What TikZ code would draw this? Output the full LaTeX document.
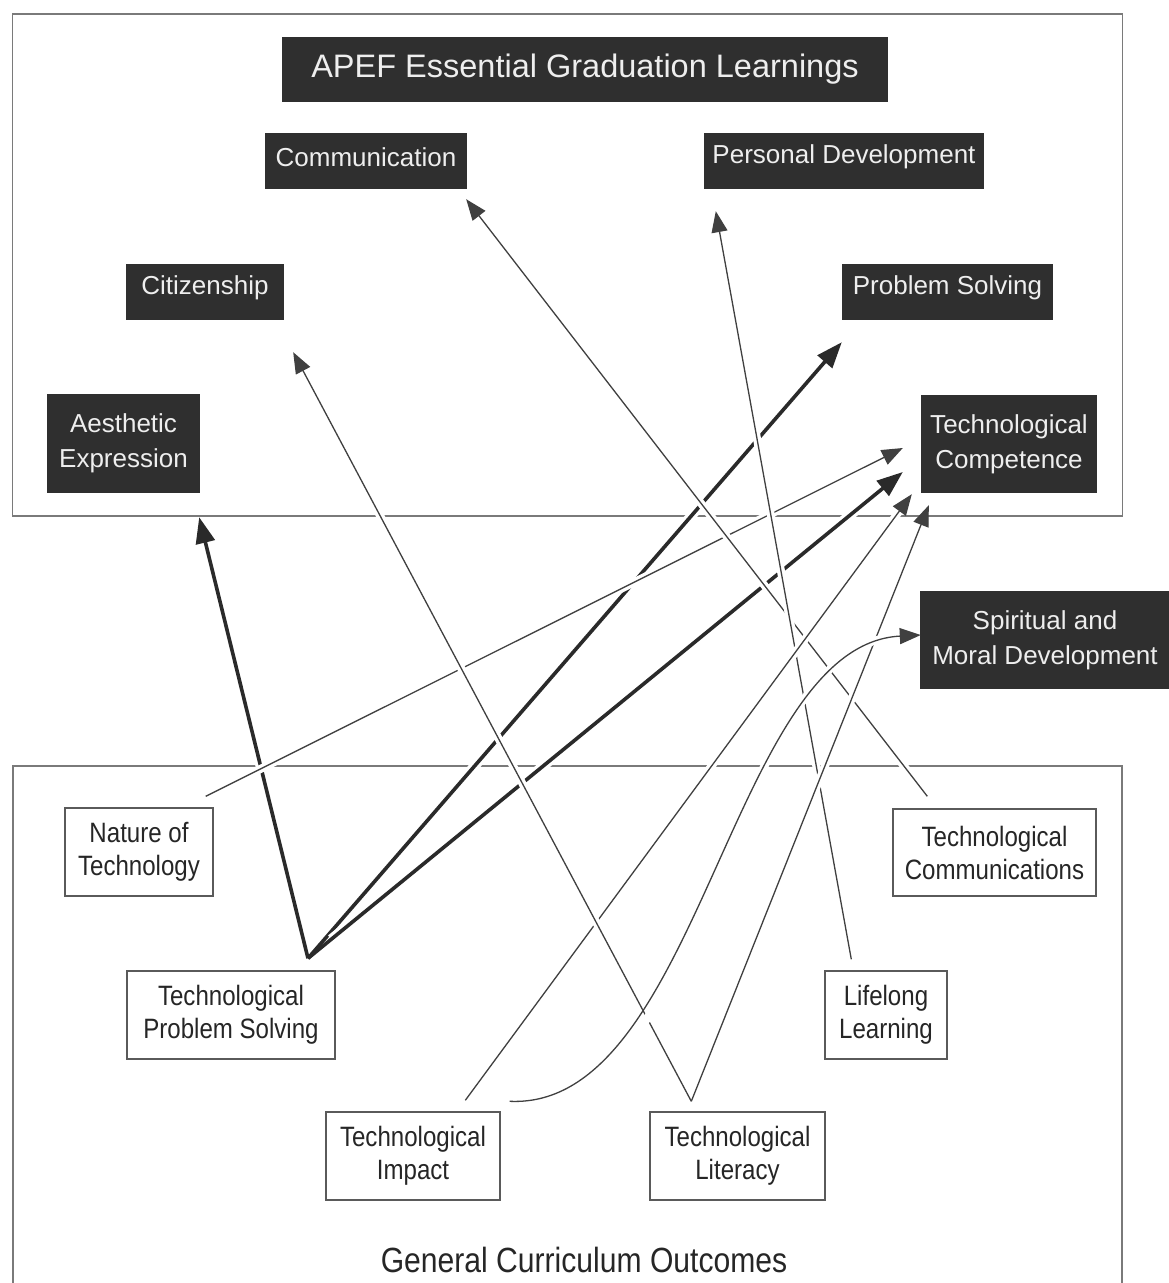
\documentclass[tikz,border=0pt]{standalone}
\usepackage{fontspec}
\setmainfont{Liberation Sans}
\newfontfamily\narrowsans{Liberation Sans}[FakeStretch=0.86]
\usetikzlibrary{arrows.meta,calc}

\definecolor{boxfill}{HTML}{2F2F2F}
\definecolor{boxtext}{HTML}{EEEEEE}
\definecolor{boxline}{HTML}{5A5A5A}
\definecolor{frameline}{HTML}{7A7A7A}
\definecolor{linkgray}{HTML}{404040}
\definecolor{thickgray}{HTML}{2A2A2A}
\definecolor{lighttext}{HTML}{262626}

% raise a one-line label a little without changing its box
\newcommand{\liftlabel}[1]{\raisebox{4pt}[\height][\depth]{#1}}

\begin{document}
\begin{tikzpicture}[x=1pt,y=-1pt,
  dark/.style={fill=boxfill, draw=none, text=boxtext, align=center,
    inner sep=0pt, font=\fontsize{26}{35}\selectfont},
  light/.style={draw=boxline, line width=1.4pt, fill=white, align=center,
    inner sep=0pt, text=lighttext, font=\narrowsans\fontsize{28}{33}\selectfont},
  frame/.style={draw=frameline, line width=1.4pt},
  thin link/.style={draw=linkgray, line width=1.3pt,
    -{Triangle[length=21pt,width=16pt]},
    preaction={draw=white, line width=8pt, arrows=-,
      shorten >=22pt, shorten <=24pt}},
  thick link/.style={draw=thickgray, line width=3.6pt,
    -{Triangle[length=26pt,width=19pt]},
    preaction={draw=white, line width=10pt, arrows=-,
      shorten >=28pt, shorten <=30pt}},
]
\useasboundingbox (0,0) rectangle (1168,1283);
\fill[white] (0,0) rectangle (1168,1283);

% the two panels
\draw[frame] (12.5,14) rectangle (1122.5,516);
\draw[frame] (13,1283) -- (13,766) -- (1122,766) -- (1122,1283);

% essential graduation learnings
\node[dark, minimum width=606pt, minimum height=65pt,
  font=\fontsize{32.5}{38}\selectfont] (title) at (585,69.5)
  {APEF Essential Graduation Learnings};
\node[dark, minimum width=202pt, minimum height=56pt] (comm) at (366,161) {\liftlabel{Communication}};
\node[dark, minimum width=280pt, minimum height=56pt] (pd) at (844,161) {\liftlabel{Personal Development}};
\node[dark, minimum width=158pt, minimum height=56pt] (cit) at (205,292) {\liftlabel{Citizenship}};
\node[dark, minimum width=211pt, minimum height=56pt] (ps) at (947.5,292) {\liftlabel{Problem Solving}};
\node[dark, minimum width=153pt, minimum height=99pt] (aes) at (123.5,443.5) {Aesthetic\\Expression};
\node[dark, minimum width=176pt, minimum height=98pt] (tc) at (1009,444) {Technological\\Competence};
\node[dark, minimum width=250pt, minimum height=98pt] (smd) at (1045,640) {Spiritual and\\Moral Development};

% general curriculum outcomes
\node[light, minimum width=148pt, minimum height=88pt] (nat) at (139,852) {Nature of\\Technology};
\node[light, minimum width=203pt, minimum height=87pt] (tcom) at (994.5,852.5) {Technological\\Communications};
\node[light, minimum width=208pt, minimum height=88pt] (tps) at (231,1015) {Technological\\Problem Solving};
\node[light, minimum width=122pt, minimum height=88pt] (ll) at (886,1015) {Lifelong\\Learning};
\node[light, minimum width=174pt, minimum height=88pt] (ti) at (413,1156) {Technological\\Impact};
\node[light, minimum width=175pt, minimum height=88pt] (tl) at (737.5,1156) {Technological\\Literacy};
\node[text=lighttext, font=\narrowsans\fontsize{35}{40}\selectfont] (gco) at (584,1260)
  {General Curriculum Outcomes};

% connector end points
\coordinate (tps-top)  at ($(tps.north)+(77,-12)$);
\coordinate (nat-top)  at ($(nat.north east)+(-8,-11)$);
\coordinate (tcom-top) at ($(tcom.north west)+(35,-12)$);
\coordinate (ll-top)   at ($(ll.north west)+(27,-11)$);
\coordinate (tl-top)   at ($(tl.north west)+(42,-10)$);
\coordinate (ti-top)   at ($(ti.north west)+(140,-11)$);
\coordinate (ti-side)  at ($(ti.north east)+(9,-10)$);

\coordinate (aes-in)  at ($(aes.south east)+(-1,24)$);
\coordinate (ps-in)   at ($(ps.south west)+(0,22)$);
\coordinate (comm-in) at ($(comm.south east)+(-1,10)$);
\coordinate (pd-in)   at ($(pd.south west)+(12,22)$);
\coordinate (cit-in)  at ($(cit.south east)+(9,32)$);
\coordinate (tc-in1)  at ($(tc.west)+(-18,4)$);
\coordinate (tc-in2)  at ($(tc.west)+(-18,28)$);
\coordinate (tc-in3)  at ($(tc.south west)+(-9,1)$);
\coordinate (tc-in4)  at ($(tc.south west)+(8,12)$);
\coordinate (smd-in)  at ($(smd.west)+(1,-5)$);

% technological problem solving links
\draw[thick link] (tps-top) -- (aes-in);
\draw[thick link] (tps-top) -- (ps-in);
\draw[thick link] (tps-top) -- (tc-in2);

% remaining links
\draw[thin link] (nat-top) -- (tc-in1);
\draw[thin link] (tcom-top) -- (comm-in);
\draw[thin link] (ll-top) -- (pd-in);
\draw[thin link] (ti-top) -- (tc-in3);
\draw[thin link] (tl-top) -- (tc-in4);
\draw[thin link] (tl-top) -- (cit-in);
\draw[thin link] (ti-side) .. controls (700,1110) and (730,645) .. (smd-in);
\end{tikzpicture}
\end{document}
